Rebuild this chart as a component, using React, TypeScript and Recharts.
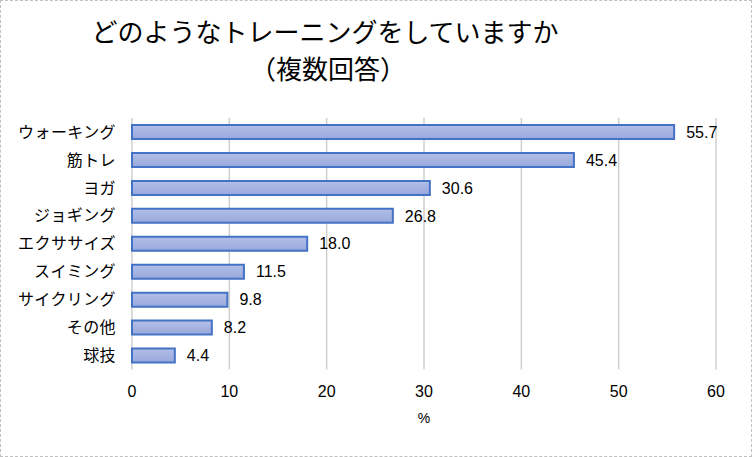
import React from 'react';
import { BarChart, Bar, XAxis, YAxis, CartesianGrid, LabelList, Label } from 'recharts';

const categories = ['ウォーキング', '筋トレ', 'ヨガ', 'ジョギング', 'エクササイズ', 'スイミング', 'サイクリング', 'その他', '球技'];
const values = [55.7, 45.4, 30.6, 26.8, 18.0, 11.5, 9.8, 8.2, 4.4];
const xTicks = [0, 10, 20, 30, 40, 50, 60];
const titleLine1 = 'どのようなトレーニングをしていますか';
const titleLine2 = '（複数回答）';

const data = categories.map((name, i) => ({ name, value: values[i] }));

const FONT = '"Liberation Sans", "Noto Sans CJK JP", sans-serif';

export default function App() {
  return (
    <div style={{ position: 'absolute', left: 0, top: 0, width: 752, height: 457, background: '#fff', fontFamily: FONT }}>
      <div style={{ position: 'absolute', left: 0, top: 0, width: 752, height: 457, boxSizing: 'border-box', border: '1px dashed #c0c0c0' }} />
      <div style={{ position: 'absolute', left: 0, width: 650, top: 14, textAlign: 'center', fontSize: 26, lineHeight: '38px', color: '#000' }}>{titleLine1}</div>
      <div style={{ position: 'absolute', left: 0, width: 656, top: 51, textAlign: 'center', fontSize: 26, lineHeight: '38px', color: '#000' }}>{titleLine2}</div>
      <BarChart
        width={752}
        height={457}
        data={data}
        layout="vertical"
        margin={{ top: 118, right: 36, bottom: 57.5, left: 0 }}
        barSize={14}
        style={{ position: 'absolute', left: 0, top: 0 }}
      >
        <defs>
          <linearGradient id="barFill" x1="0" y1="0" x2="0" y2="1">
            <stop offset="0%" stopColor="#b3bfe8" />
            <stop offset="100%" stopColor="#98a8dc" />
          </linearGradient>
        </defs>
        <CartesianGrid horizontal={false} vertical={true} stroke="#cfcfcf" strokeWidth={1.5} />
        <XAxis
          type="number"
          domain={[0, 60]}
          ticks={xTicks}
          axisLine={false}
          tickLine={false}
          tickSize={0}
          tickMargin={16}
          height={30}
          tick={{ fill: '#000', fontSize: 16, fontFamily: FONT }}
        >
          <Label value="%" position="bottom" offset={14} style={{ fill: '#000', fontSize: 14, fontFamily: FONT }} />
        </XAxis>
        <YAxis
          type="category"
          dataKey="name"
          width={132}
          axisLine={false}
          tickLine={false}
          tickSize={0}
          tickMargin={16}
          interval={0}
          tick={{ fill: '#000', fontSize: 16, fontFamily: FONT, letterSpacing: 0.4 }}
        />
        <Bar dataKey="value" fill="url(#barFill)" stroke="#4472c4" strokeWidth={2} isAnimationActive={false}>
          <LabelList
            dataKey="value"
            position="right"
            offset={12}
            formatter={(v: number) => Number(v).toFixed(1)}
            style={{ fill: '#000', fontSize: 16, fontFamily: FONT }}
          />
        </Bar>
      </BarChart>
    </div>
  );
}
